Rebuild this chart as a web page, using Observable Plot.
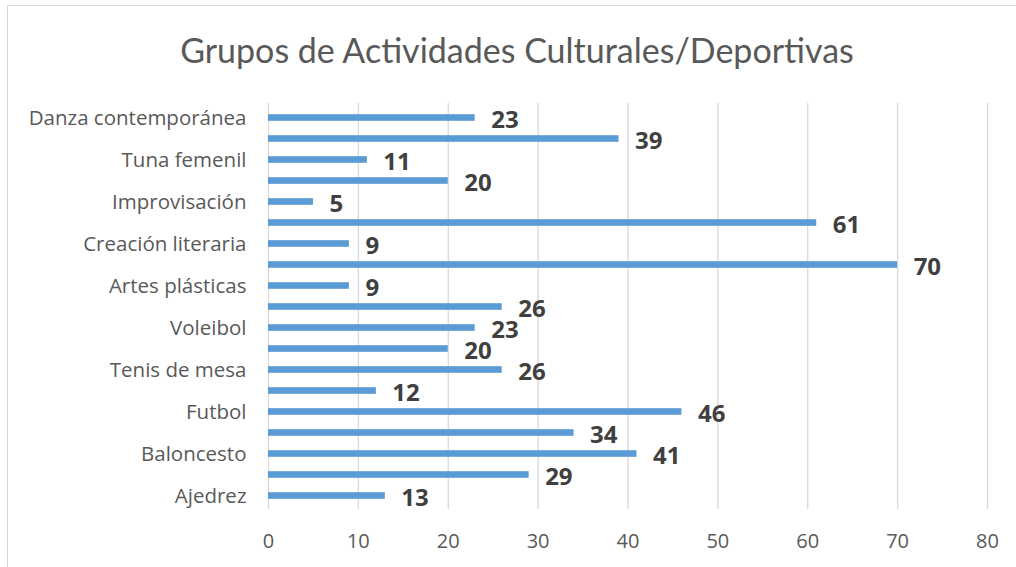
<!DOCTYPE html>
<html>
<head>
<meta charset="utf-8">
<script src="https://cdn.jsdelivr.net/npm/d3@7"></script>
<script src="https://cdn.jsdelivr.net/npm/@observablehq/plot@0.6"></script>
<style>
  html, body { margin: 0; padding: 0; background: #fff; }
  #wrap { position: relative; width: 1016px; height: 567px; overflow: hidden; font-family: "Open Sans", sans-serif; }
  #frame { position: absolute; left: 7px; top: 5px; width: 1020px; height: 600px; border: 1px solid #d9d9d9; box-sizing: border-box; }
  #title { position: absolute; left: 0; top: 0; width: 1034px; height: 88px; text-align: center; font-family: Lato, "Open Sans", sans-serif; font-size: 34px; line-height: 1; color: #595959; padding-top: 33px; box-sizing: border-box; font-weight: 400; }
  #chart { position: absolute; left: 0; top: 88px; }
</style>
</head>
<body>
<div id="wrap">
  <div id="frame"></div>
  <div id="title">Grupos de Actividades Culturales/Deportivas</div>
  <div id="chart"></div>
</div>
<script>
// Bars listed bottom to top; only every other category label is shown in the chart
const labels = [
  "Ajedrez", "", "Baloncesto", "", "Futbol", "", "Tenis de mesa", "", "Voleibol", "",
  "Artes plásticas", "", "Creación literaria", "", "Improvisación", "", "Tuna femenil", "", "Danza contemporánea"
];
const values = [13, 29, 41, 34, 46, 12, 26, 20, 23, 26, 9, 70, 9, 61, 5, 20, 11, 39, 23];
const xTicks = [0, 10, 20, 30, 40, 50, 60, 70, 80];

const data = values.map((v, i) => ({ idx: i, value: v }));
const order = d3.range(values.length).reverse(); // top to bottom

const chart = Plot.plot({
  width: 1016,
  height: 479,
  marginTop: 15,
  marginBottom: 58,
  marginLeft: 268,
  marginRight: 29,
  style: { fontFamily: "'Open Sans', sans-serif", background: "transparent", overflow: "visible" },
  x: { domain: [0, 80], ticks: xTicks, label: null },
  y: { domain: order, padding: 0, label: null },
  marks: [
    Plot.gridX(xTicks, { stroke: "#d9d9d9", strokeOpacity: 1, strokeWidth: 1.3 }),
    Plot.axisX({ ticks: xTicks, tickSize: 0, tickPadding: 24, fontSize: 20, color: "#595959", label: null }),
    Plot.axisY({ tickSize: 0, tickPadding: 22, fontSize: 20.5, color: "#595959", label: null, tickFormat: (i) => labels[i] }),
    Plot.barX(data, { x: "value", y: "idx", fill: "#5b9bd5", insetTop: 7.2, insetBottom: 7.2 }),
    Plot.text(data, { x: "value", y: "idx", text: (d) => String(d.value), dx: 16, dy: 2, textAnchor: "start", fontSize: 24, fontWeight: "bold", fill: "#404040" })
  ]
});
document.getElementById("chart").appendChild(chart);
</script>
</body>
</html>
